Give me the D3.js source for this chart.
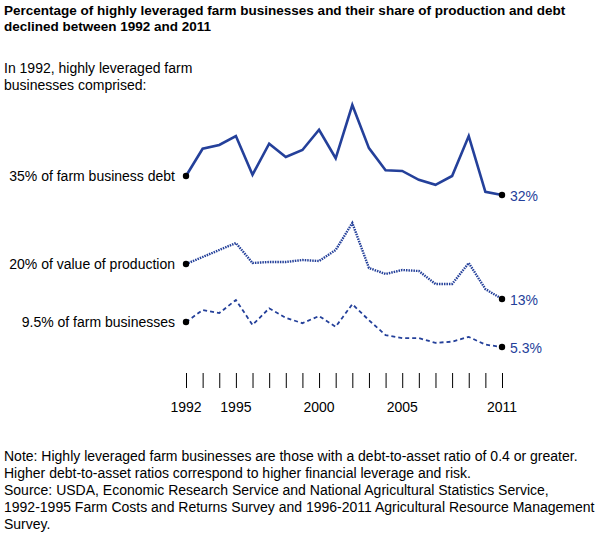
<!DOCTYPE html>
<html><head><meta charset="utf-8">
<script src="https://cdn.jsdelivr.net/npm/d3@7"></script>
<style>body{margin:0;background:#fff;font-family:Arial,"Liberation Sans",sans-serif}</style>
</head><body><svg id="c" width="598" height="534"></svg>
<script>
const years = d3.range(1992, 2012);
const debtShare = [35,39.3,39.9,41.3,35.2,40.1,38.0,39.1,42.3,37.8,46.2,39.4,35.9,35.8,34.4,33.6,35.0,41.3,32.5,32];
const productionShare = [20,21.4,22.8,24.2,20.2,20.4,20.4,20.8,20.6,22.8,28.2,19.2,18.0,18.8,18.6,16.0,16.0,20.2,15.0,13];
const farmShare = [9.5,11.5,11.0,13.2,9.0,11.8,10.2,9.3,10.5,8.7,12.5,9.8,7.3,6.8,6.8,6.0,6.2,7.0,5.7,5.3];
const tickLabels = [1992,1995,2000,2005,2011];
const seriesLabels = ["35% of farm business debt","20% of value of production","9.5% of farm businesses"];
const endLabels = ["32%","13%","5.3%"];

const svg = d3.select("#c");
const col = "#24409a";
const x = d3.scaleLinear().domain([1992,2011]).range([186,502]);
const series = [
  {v: debtShare, y: d3.scaleLinear().domain([35,32]).range([176,195]), dash:null, w:2.6},
  {v: productionShare, y: d3.scaleLinear().domain([20,13]).range([264,299]), dash:"1.5,1", w:2.4},
  {v: farmShare, y: d3.scaleLinear().domain([9.5,5.3]).range([322,347]), dash:"4,3", w:1.8}
];
const t = (s,xx,yy,o={}) => svg.append("text").attr("x",xx).attr("y",yy).text(s)
  .attr("font-size",o.size||14).attr("font-weight",o.bold?"bold":null).attr("fill",o.fill||"#000")
  .attr("text-anchor",o.anchor||"start");
t("Percentage of highly leveraged farm businesses and their share of production and debt",4,15,{bold:true,size:13.5});
t("declined between 1992 and 2011",4,31,{bold:true,size:13.5});
t("In 1992, highly leveraged farm",4,73);
t("businesses comprised:",4,90);
series.forEach((s,i)=>{
  const line = d3.line().x((d,j)=>x(years[j])).y(d=>s.y(d));
  svg.append("path").datum(s.v).attr("d",line).attr("fill","none").attr("stroke",col)
    .attr("stroke-width",s.w).attr("stroke-dasharray",s.dash);
  [0,s.v.length-1].forEach(j=>svg.append("circle").attr("cx",x(years[j])).attr("cy",s.y(s.v[j])).attr("r",3.2).attr("fill","#000"));
  t(seriesLabels[i],175,s.y(s.v[0])+5,{anchor:"end"});
  t(endLabels[i],510,s.y(s.v[s.v.length-1])+6,{fill:col});
});
const ax = svg.append("g").attr("transform","translate(0,373)")
  .call(d3.axisBottom(x).tickValues(years).tickSize(15).tickFormat(""));
ax.select(".domain").remove();
ax.selectAll("line").attr("stroke","#000");
tickLabels.forEach(v=>t(v,x(v),412,{anchor:"middle"}));
["Note: Highly leveraged farm businesses are those with a debt-to-asset ratio of 0.4 or greater.",
 "Higher debt-to-asset ratios correspond to higher financial leverage and risk.",
 "Source: USDA, Economic Research Service and National Agricultural Statistics Service,",
 "1992-1995 Farm Costs and Returns Survey and 1996-2011 Agricultural Resource Management",
 "Survey."].forEach((s,i)=>t(s,4,461+i*17));
</script></body></html>
